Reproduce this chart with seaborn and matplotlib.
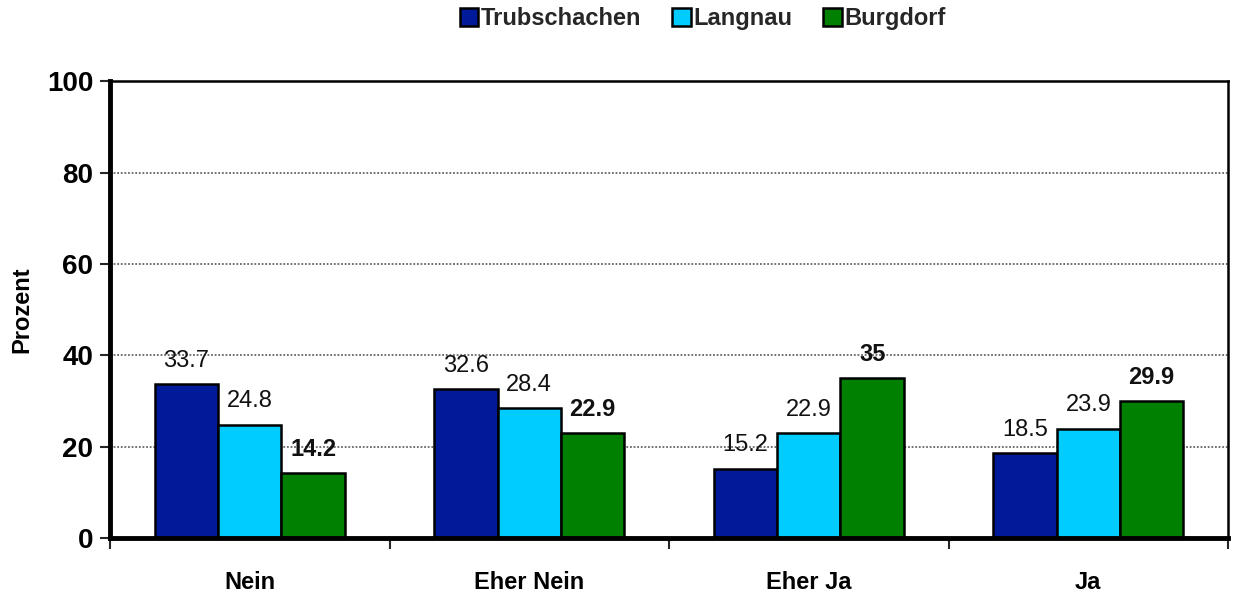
import matplotlib
matplotlib.use("Agg")
import matplotlib.pyplot as plt
import seaborn as sns
import pandas as pd
import numpy as np

categories = ["Nein", "Eher Nein", "Eher Ja", "Ja"]
series = ["Trubschachen", "Langnau", "Burgdorf"]
trubschachen = [33.7, 32.6, 15.2, 18.5]
langnau = [24.8, 28.4, 22.9, 23.9]
burgdorf = [14.2, 22.9, 35, 29.9]
colors = ["#001a99", "#00ccff", "#008000"]

rows = []
for s, vals in zip(series, [trubschachen, langnau, burgdorf]):
    for c, v in zip(categories, vals):
        rows.append({"Kategorie": c, "Ort": s, "Prozent": v})
df = pd.DataFrame(rows)

sns.set_style("white")
plt.rcParams["font.family"] = ["Liberation Sans", "DejaVu Sans"]

fig = plt.figure(figsize=(12.43, 6.01), dpi=100)
ax = fig.add_axes([0.0885, 0.1048, 0.8995, 0.7602])

sns.barplot(data=df, x="Kategorie", y="Prozent", hue="Ort", order=categories,
            hue_order=series, palette=colors, width=0.68, edgecolor="black",
            linewidth=1.8, ax=ax, saturation=1, legend=True, gap=0)

ax.set_ylim(0, 100)
ax.set_xlim(-0.5, 3.5)
ax.set_yticks([0, 20, 40, 60, 80, 100])
ax.yaxis.grid(True, linestyle=(0, (1, 1)), color="#666666", linewidth=1.3)
ax.set_axisbelow(True)
ax.set_xlabel("")
ax.set_ylabel("Prozent", fontsize=17, fontweight="bold", labelpad=10, color="black")

for lab in ax.get_yticklabels():
    lab.set_fontweight("bold")
ax.tick_params(axis="y", labelsize=20, length=7, width=1.5, direction="out", left=True, pad=5, labelcolor="black")
ax.tick_params(axis="x", which="major", labelsize=17, length=0, pad=24, labelcolor="black")
for lab in ax.get_xticklabels():
    lab.set_fontweight("bold")
ax.set_xticks([-0.5, 0.5, 1.5, 2.5, 3.5], minor=True)
ax.tick_params(axis="x", which="minor", length=8, width=1.5, direction="out", bottom=True)

for sp in ["left", "bottom"]:
    ax.spines[sp].set_linewidth(3.5)
    ax.spines[sp].set_color("black")
for sp in ["top", "right"]:
    ax.spines[sp].set_linewidth(1.8)
    ax.spines[sp].set_color("black")

for i, cont in enumerate(ax.containers):
    labels = [("%g" % v) for v in [trubschachen, langnau, burgdorf][i]]
    ax.bar_label(cont, labels=labels, padding=9, fontsize=17,
                 fontweight="bold" if i == 2 else "normal", color="#111111")

handles, labels = ax.get_legend_handles_labels()
ax.legend(handles, labels, loc="lower center", bbox_to_anchor=(0.53, 1.065), ncol=3,
          frameon=False, prop={"weight": "bold", "size": 17},
          handlelength=0.8, handleheight=0.8, handletextpad=0.1, columnspacing=1.3)

fig.savefig("out.png", dpi=100)
